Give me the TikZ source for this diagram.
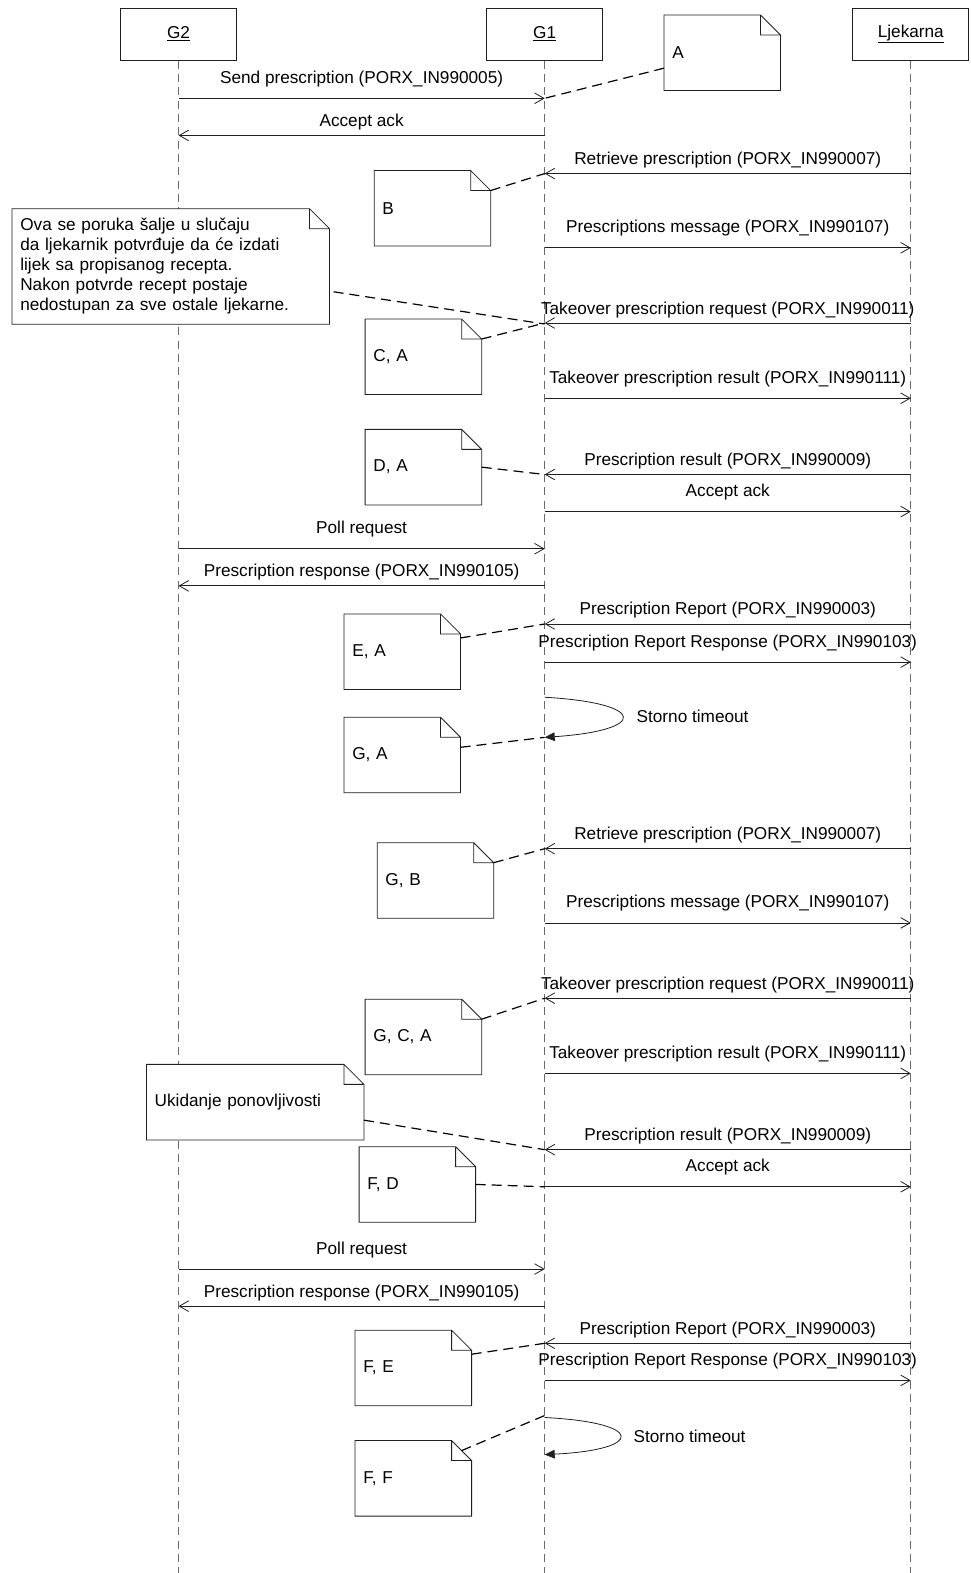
\documentclass[tikz,border=0pt]{standalone}
\usepackage{fontspec}
\setmainfont{Liberation Sans}
\usepackage{xcolor}
\definecolor{cLine}{HTML}{202020}
\definecolor{cLife}{HTML}{6A6A6A}
\usepackage{tikz}
\usetikzlibrary{arrows.meta,calc}
\newcommand{\diafont}{\fontsize{12.9pt}{15pt}\selectfont}
\tikzset{
  head-box/.style={draw=cLine,fill=white,line width=0.6pt,minimum width=87pt,
    minimum height=39pt,inner sep=0pt},
  note-box/.style={anchor=north west,fill=white,inner xsep=6pt,inner ysep=0pt,
    align=left,text width=#1,minimum height=56.25pt},
  note-box/.default=75pt,
  note-line/.style={draw=cLine,line width=0.6pt},
  lifeline/.style={draw=cLife,line width=0.6pt,dash pattern=on 6pt off 4pt},
  msg/.style={-{Straight Barb[length=7pt,width=8pt]},draw=cLine,line width=0.6pt},
  msg-self/.style={-{Triangle[length=7.5pt,width=6.5pt]},draw=cLine,line width=0.6pt},
  note-link/.style={draw=black,line width=0.9pt,dash pattern=on 7.5pt off 4.5pt},
  lbl-far/.style={anchor=base,inner sep=0pt,yshift=11.25pt},
  lbl-near/.style={anchor=base,inner sep=0pt,yshift=6.75pt},
}
% dog-ear outline round a note node
\newcommand{\notefold}[1]{%
  \draw[note-line] (#1.north west) -- ([xshift=-15pt]#1.north east)
    -- ([yshift=-15pt]#1.north east) -- (#1.south east) -- (#1.south west) -- cycle
    ([xshift=-15pt]#1.north east) |- ([yshift=-15pt]#1.north east);}

\begin{document}
\begin{tikzpicture}[x=0.75232pt,y=-0.75239pt,font=\diafont]
  \useasboundingbox (0,0) rectangle (968,1568);
  % participants
  \node[head-box] (g2) at (178,34) {\underline{G2}};
  \node[head-box] (g1) at (543,34) {\underline{G1}};
  \node[head-box] (lj) at (908,34) {\underline{Ljekarna}};
  \foreach \h in {g2,g1,lj} \draw[lifeline] (\h.south) -- (\h.south |- 0,1568);

  % notes
  \node[note-box] (nA) at (662,15) {A}; \notefold{nA}
  \node[note-box] (nB) at (373,170) {B}; \notefold{nB}
  \node[note-box=225.75pt,minimum height=86.25pt] (nBig) at (12,208)
    {Ova se poruka šalje u slučaju\\da ljekarnik potvrđuje da će izdati\\lijek sa propisanog recepta.\\Nakon potvrde recept postaje\\nedostupan za sve ostale ljekarne.};
  \notefold{nBig}
  \node[note-box] (nCA) at (364,318) {C, A}; \notefold{nCA}
  \node[note-box] (nDA) at (364,428) {D, A}; \notefold{nDA}
  \node[note-box] (nEA) at (343,612) {E, A}; \notefold{nEA}
  \node[note-box] (nGA) at (343,715) {G, A}; \notefold{nGA}
  \node[note-box] (nGB) at (376,840) {G, B}; \notefold{nGB}
  \node[note-box] (nGCA) at (364,996) {G, C, A}; \notefold{nGCA}
  \node[note-box=150.75pt] (nUk) at (146,1061) {Ukidanje ponovljivosti}; \notefold{nUk}
  \node[note-box] (nFD) at (358,1143) {F, D}; \notefold{nFD}
  \node[note-box] (nFE) at (354,1326) {F, E}; \notefold{nFE}
  \node[note-box] (nFF) at (354,1436) {F, F}; \notefold{nFF}

  % messages
  \draw[msg] (g2 |- 0,98) -- node[lbl-far] (m1) {Send prescription (PORX\_IN990005)} (g1 |- 0,98);
  \draw[msg] (g1 |- 0,135) -- node[lbl-near] (m2) {Accept ack} (g2 |- 0,135);
  \draw[msg] (lj |- 0,173) -- node[lbl-near] (m3) {Retrieve prescription (PORX\_IN990007)} (g1 |- 0,173);
  \draw[msg] (g1 |- 0,247) -- node[lbl-far] (m4) {Prescriptions message (PORX\_IN990107)} (lj |- 0,247);
  \draw[msg] (lj |- 0,322) -- node[lbl-near] (m5) {Takeover prescription request (PORX\_IN990011)} (g1 |- 0,322);
  \draw[msg] (g1 |- 0,397) -- node[lbl-far] (m6) {Takeover prescription result (PORX\_IN990111)} (lj |- 0,397);
  \draw[msg] (lj |- 0,473) -- node[lbl-near] (m7) {Prescription result (PORX\_IN990009)} (g1 |- 0,473);
  \draw[msg] (g1 |- 0,510) -- node[lbl-far] (m8) {Accept ack} (lj |- 0,510);
  \draw[msg] (g2 |- 0,547) -- node[lbl-far] (m9) {Poll request} (g1 |- 0,547);
  \draw[msg] (g1 |- 0,584) -- node[lbl-near] (m10) {Prescription response (PORX\_IN990105)} (g2 |- 0,584);
  \draw[msg] (lj |- 0,622) -- node[lbl-near] (m11) {Prescription Report (PORX\_IN990003)} (g1 |- 0,622);
  \draw[msg] (g1 |- 0,660) -- node[lbl-far] (m12) {Prescription Report Response (PORX\_IN990103)} (lj |- 0,660);
  \draw[msg-self] (g1 |- 0,695) .. controls (646,701) and (646,728) .. (g1 |- 0,735);
  \node[anchor=west] (st1) at (630,714) {Storno timeout};
  \draw[msg] (lj |- 0,846) -- node[lbl-near] (m13) {Retrieve prescription (PORX\_IN990007)} (g1 |- 0,846);
  \draw[msg] (g1 |- 0,920) -- node[lbl-far] (m14) {Prescriptions message (PORX\_IN990107)} (lj |- 0,920);
  \draw[msg] (lj |- 0,995) -- node[lbl-near] (m15) {Takeover prescription request (PORX\_IN990011)} (g1 |- 0,995);
  \draw[msg] (g1 |- 0,1070) -- node[lbl-far] (m16) {Takeover prescription result (PORX\_IN990111)} (lj |- 0,1070);
  \draw[msg] (lj |- 0,1146) -- node[lbl-near] (m17) {Prescription result (PORX\_IN990009)} (g1 |- 0,1146);
  \draw[msg] (g1 |- 0,1183) -- node[lbl-far] (m18) {Accept ack} (lj |- 0,1183);
  \draw[msg] (g2 |- 0,1265) -- node[lbl-far] (m19) {Poll request} (g1 |- 0,1265);
  \draw[msg] (g1 |- 0,1302) -- node[lbl-near] (m20) {Prescription response (PORX\_IN990105)} (g2 |- 0,1302);
  \draw[msg] (lj |- 0,1339) -- node[lbl-near] (m21) {Prescription Report (PORX\_IN990003)} (g1 |- 0,1339);
  \draw[msg] (g1 |- 0,1376) -- node[lbl-far] (m22) {Prescription Report Response (PORX\_IN990103)} (lj |- 0,1376);
  \draw[msg-self] (g1 |- 0,1413) .. controls (643,1418) and (643,1445) .. (g1 |- 0,1450);
  \node[anchor=west] (st2) at (627,1432) {Storno timeout};

  % note anchors
  \draw[note-link] ([yshift=-11.5pt]nA.west) -- (g1 |- 0,98);
  \draw[note-link] ([yshift=-15pt]nB.north east) -- (g1 |- 0,173);
  \draw[note-link] ([xshift=3pt,yshift=-19pt]nBig.east) -- (g1 |- 0,323);
  \draw[note-link] ([yshift=-15pt]nCA.north east) -- (g1 |- 0,322);
  \draw[note-link] (nDA.east) -- (g1 |- 0,473);
  \draw[note-link] ([yshift=-18pt]nEA.north east) -- (g1 |- 0,622);
  \draw[note-link] ([yshift=-22.5pt]nGA.north east) -- (g1 |- 0,735);
  \draw[note-link] ([yshift=-15pt]nGB.north east) -- (g1 |- 0,846);
  \draw[note-link] ([yshift=-15pt]nGCA.north east) -- (g1 |- 0,995);
  \draw[note-link] ([yshift=-13.5pt]nUk.east) -- (g1 |- 0,1146);
  \draw[note-link] (nFD.east) -- (g1 |- 0,1183);
  \draw[note-link] ([yshift=-18pt]nFE.north east) -- (g1 |- 0,1339);
  \draw[note-link] ([xshift=-7.5pt,yshift=-7.5pt]nFF.north east) -- (g1 |- 0,1411);
\end{tikzpicture}
\end{document}
